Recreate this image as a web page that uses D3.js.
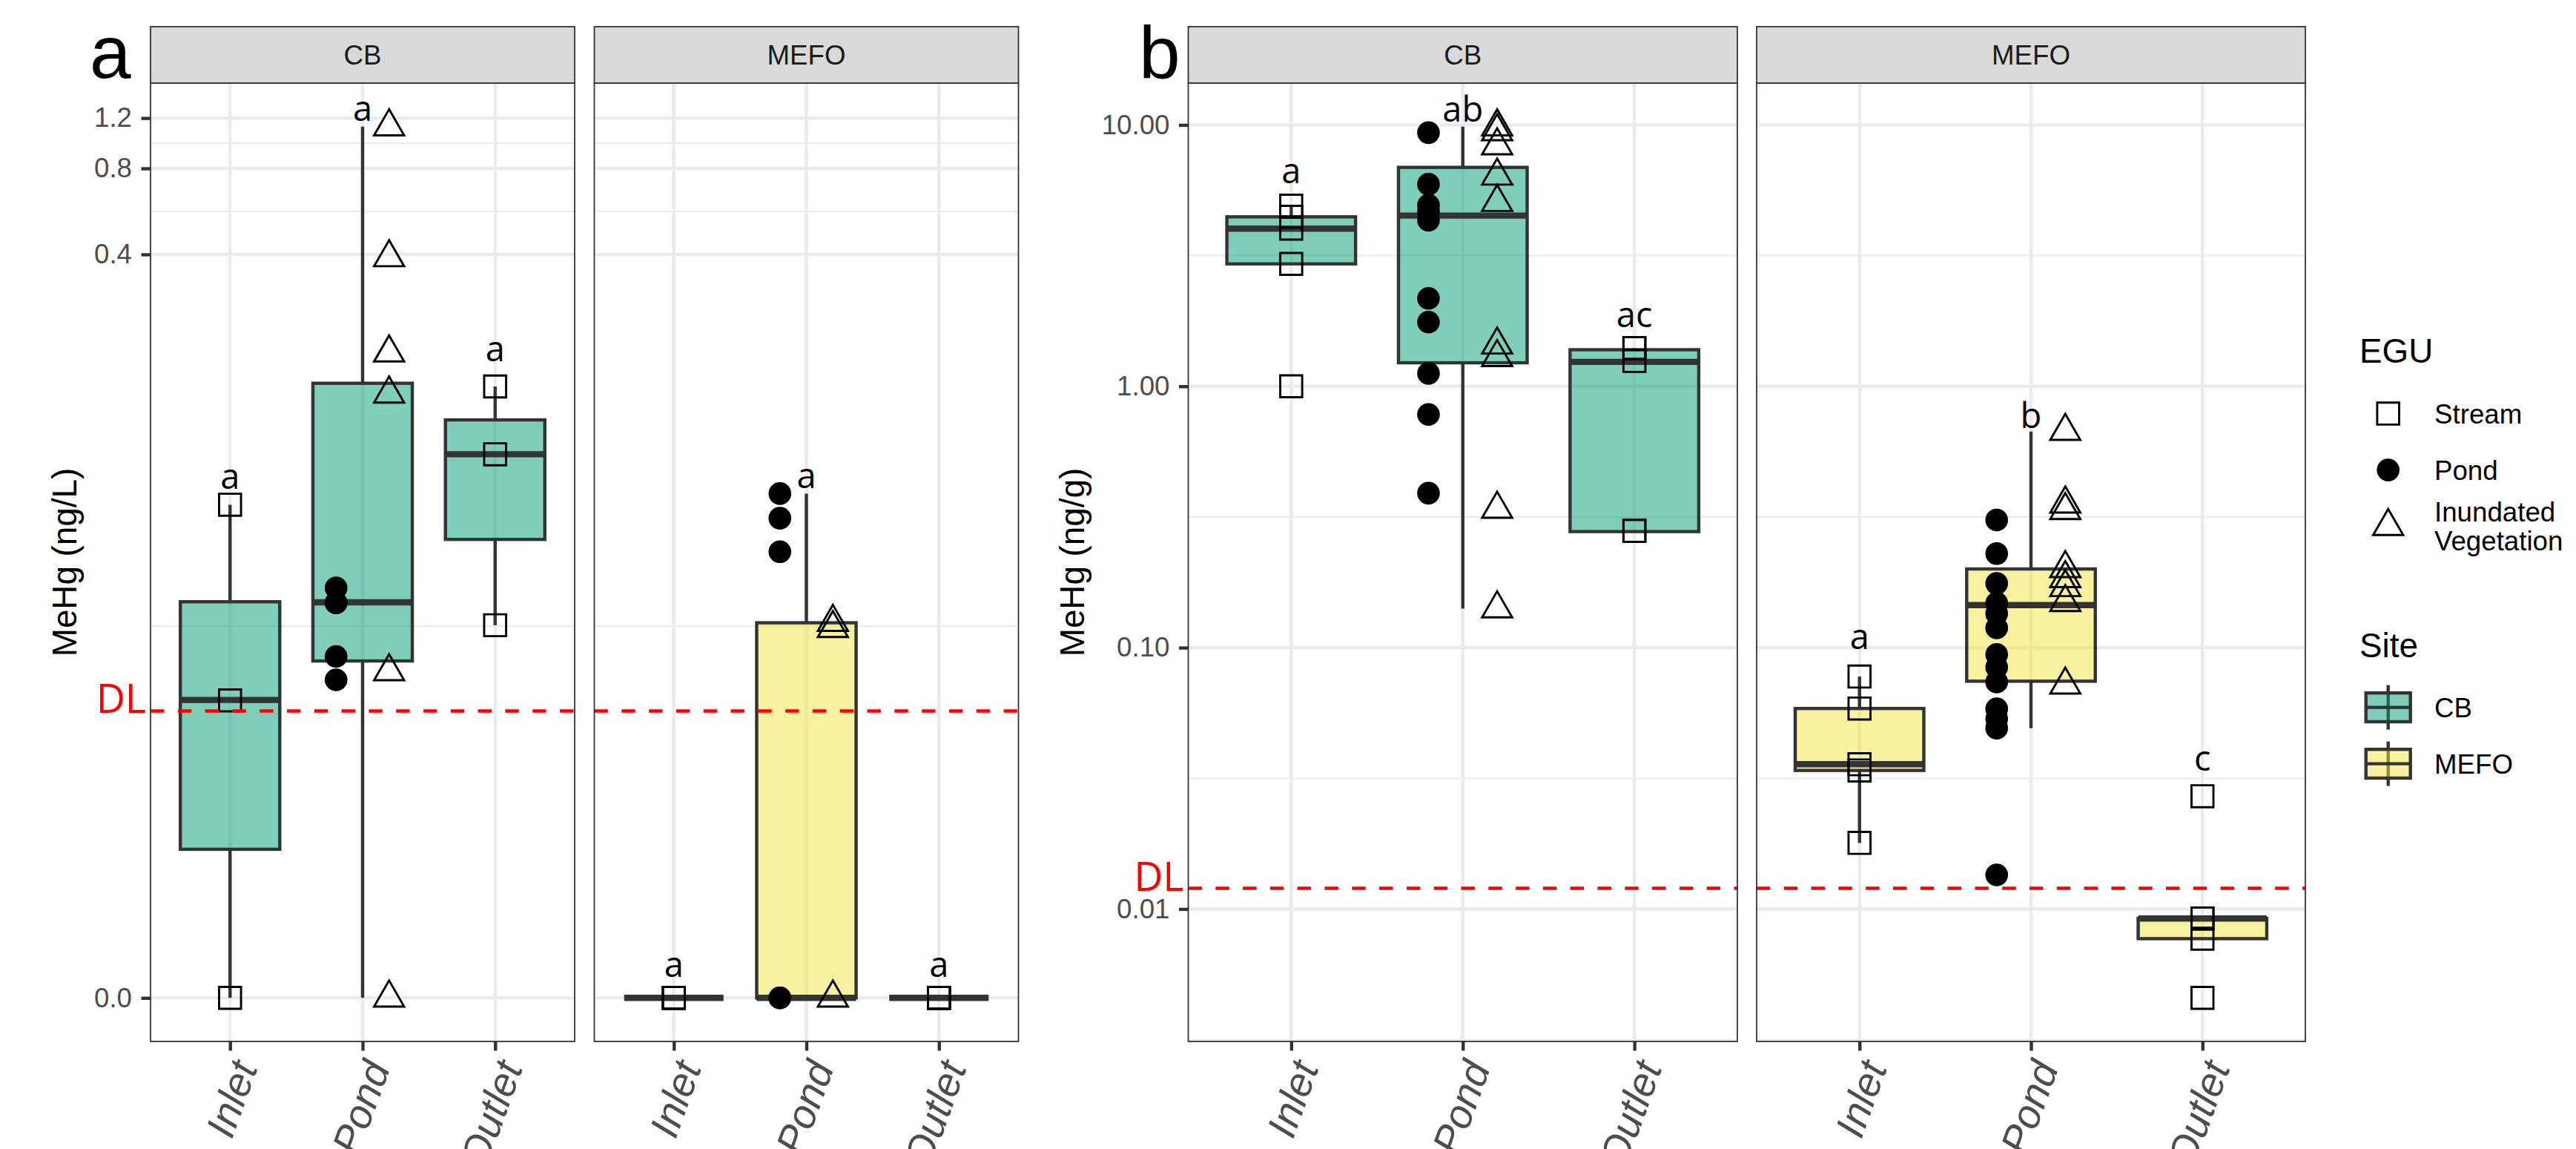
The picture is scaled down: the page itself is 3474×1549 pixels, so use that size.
<!DOCTYPE html>
<html>
<head>
<meta charset="utf-8">
<script src="https://cdn.jsdelivr.net/npm/d3@7"></script>
<style>
  body { margin: 0; background: #fff; }
  svg { display: block; }
</style>
</head>
<body>
<svg id="chart" width="3474" height="1549"></svg>
<script>
// ---- categories ----
const locations = ["Inlet", "Pond", "Outlet"];
const sites = ["CB", "MEFO"];
const eguNames = ["Stream", "Pond", "Inundated Vegetation"];
const eguLabels = ["Stream", "Pond", "Inundated\nVegetation"];
const siteColors = ["#009E73", "#F0E442"];

// ---- panel a: MeHg in water (ng/L) ----
const waterCBInletStream = [0, 0.0109, 0.0532];
const waterCBPondPond = [0.0129, 0.0156, 0.0241, 0.0241, 0.0272];
const waterCBPondVeg = [0, 0.0138, 0.130, 0.181, 0.390, 1.12];
const waterCBOutletStream = [0.0201, 0.0799, 0.138];
const waterMEFOInletStream = [0, 0, 0];
const waterMEFOPondPond = [0, 0, 0.0364, 0.0477, 0.0582];
const waterMEFOPondVeg = [0, 0.0196, 0.0206];
const waterMEFOOutletStream = [0, 0, 0];
// [lower whisker, q1, median, q3, upper whisker] for Inlet, Pond, Outlet
const waterBoxCB = [[0, 0.00301, 0.01094, 0.0243, 0.0532], [0, 0.01504, 0.0242, 0.1416, 1.12], [0.0201, 0.0402, 0.0799, 0.1054, 0.138]];
const waterBoxMEFO = [[0, 0, 0, 0, 0], [0, 0, 0, 0.0205, 0.0582], [0, 0, 0, 0, 0]];
const waterLettersCB = ["a", "a", "a"];
const waterLettersMEFO = ["a", "a", "a"];
const waterLetterAtCB = [0.0603, 1.174, 0.169];
const waterLetterAtMEFO = [0.00034, 0.061, 0.00034];
const waterDL = 0.01;
const waterTicks = [0, 0.4, 0.8, 1.2];

// ---- panel b: MeHg in sediment (ng/g) ----
const sedCBInletStream = [1.00, 2.94, 4.01, 4.45, 4.91];
const sedCBPondPond = [0.39, 0.78, 1.12, 1.76, 2.17, 4.32, 4.67, 4.93, 5.93, 9.34];
const sedCBPondVeg = [0.141, 0.339, 1.29, 1.44, 5.06, 6.38, 8.33, 9.44, 9.85];
const sedCBOutletStream = [0.28, 0.28, 1.25, 1.40, 1.40];
const sedMEFOInletStream = [0.0179, 0.0339, 0.0358, 0.0585, 0.0775];
const sedMEFOPondPond = [0.0135, 0.0492, 0.0534, 0.0583, 0.0739, 0.0841, 0.0942, 0.119, 0.135, 0.148, 0.176, 0.229, 0.308];
const sedMEFOPondVeg = [0.072, 0.149, 0.170, 0.184, 0.201, 0.335, 0.355, 0.673];
const sedMEFOOutletStream = [0.00457, 0.0077, 0.0092, 0.0092, 0.027];
const sedBoxCB = [[2.94, 2.94, 4.01, 4.45, 4.91], [0.141, 1.23, 4.50, 6.88, 9.85], [0.278, 0.278, 1.24, 1.38, 1.40]];
const sedBoxMEFO = [[0.0179, 0.0339, 0.0358, 0.0585, 0.0775], [0.0492, 0.0744, 0.1455, 0.200, 0.671], [0.0077, 0.0077, 0.0092, 0.0092, 0.0092]];
const sedLettersCB = ["a", "ab", "ac"];
const sedLettersMEFO = ["a", "b", "c"];
const sedLetterAtCB = [5.97, 10.27, 1.686];
const sedLetterAtMEFO = [0.0989, 0.694, 0.0339];
const sedDL = 0.012;
const sedTicks = [0.01, 0.1, 1, 10];

// ---- layout ----
const fontMain = '"Liberation Sans", Arial, Helvetica, sans-serif';
const fontNote = '"Open Sans", "Noto Sans", sans-serif';
const stripTop = 36, panelTop = 112, panelBottom = 1404;
const tickLen = 12.5, lineW = 4.4;
const eguSymbols = [d3.symbolSquare, d3.symbolCircle, d3.symbolTriangle];
const eguSizes = [876, 735, 711];
const eguDodge = [0, -0.2, 0.2];

const svg = d3.select("#chart");

function rows(site, loc, egu, vals) {
  return vals.map(v => ({ site, loc, egu, value: v }));
}

function expand(ext) {
  const d = ext[1] - ext[0];
  return [ext[0] - 0.05 * d, ext[1] + 0.05 * d];
}

function minorBreaks(major, domain) {
  const b = major.slice();
  const bd = b[1] - b[0];
  if (domain[0] < b[0]) b.unshift(b[0] - bd);
  if (domain[1] > b[b.length - 1]) b.push(b[b.length - 1] + bd);
  return d3.pairs(b, (p, q) => (p + q) / 2).filter(t => t > domain[0] && t < domain[1]);
}

// pseudo-log transform used on the water axis
const sigma = 0.001;
const pseudoLog = v => Math.asinh(v / (2 * sigma));
const pseudoLogInv = t => 2 * sigma * Math.sinh(t);

function makeFigure(opts) {
  const vals = opts.rows.map(r => r.value).concat(opts.boxes.flat(2));
  const domain = expand(d3.extent(vals.map(opts.tf)));
  const yT = d3.scaleLinear().domain(domain).range([panelBottom, panelTop]);
  const tickT = opts.ticks.map(opts.tf);
  return Object.assign({}, opts, {
    yT, tickT,
    y: v => yT(opts.tf(v)),
    minor: minorBreaks(tickT, domain)
  });
}

const water = makeFigure({
  rows: [].concat(
    rows("CB", "Inlet", "Stream", waterCBInletStream),
    rows("CB", "Pond", "Pond", waterCBPondPond),
    rows("CB", "Pond", "Inundated Vegetation", waterCBPondVeg),
    rows("CB", "Outlet", "Stream", waterCBOutletStream),
    rows("MEFO", "Inlet", "Stream", waterMEFOInletStream),
    rows("MEFO", "Pond", "Pond", waterMEFOPondPond),
    rows("MEFO", "Pond", "Inundated Vegetation", waterMEFOPondVeg),
    rows("MEFO", "Outlet", "Stream", waterMEFOOutletStream)),
  boxes: [waterBoxCB, waterBoxMEFO],
  letters: [waterLettersCB, waterLettersMEFO],
  letterAt: [waterLetterAtCB, waterLetterAtMEFO],
  dl: waterDL,
  ticks: waterTicks,
  tf: pseudoLog,
  fmt: t => d3.format(".1f")(pseudoLogInv(t)),
  panels: [[203, 775], [801.5, 1373.5]],
  tag: "a", tagX: 121, tagY: 104.5,
  title: "MeHg (ng/L)"
});

const sed = makeFigure({
  rows: [].concat(
    rows("CB", "Inlet", "Stream", sedCBInletStream),
    rows("CB", "Pond", "Pond", sedCBPondPond),
    rows("CB", "Pond", "Inundated Vegetation", sedCBPondVeg),
    rows("CB", "Outlet", "Stream", sedCBOutletStream),
    rows("MEFO", "Inlet", "Stream", sedMEFOInletStream),
    rows("MEFO", "Pond", "Pond", sedMEFOPondPond),
    rows("MEFO", "Pond", "Inundated Vegetation", sedMEFOPondVeg),
    rows("MEFO", "Outlet", "Stream", sedMEFOOutletStream)),
  boxes: [sedBoxCB, sedBoxMEFO],
  letters: [sedLettersCB, sedLettersMEFO],
  letterAt: [sedLetterAtCB, sedLetterAtMEFO],
  dl: sedDL,
  ticks: sedTicks,
  tf: Math.log10,
  fmt: t => d3.format(".2f")(Math.pow(10, t)),
  panels: [[1602.5, 2343], [2369, 3109]],
  tag: "b", tagX: 1536, tagY: 106,
  title: "MeHg (ng/g)"
});

function drawPanel(fig, si) {
  const site = sites[si];
  const [left, right] = fig.panels[si];
  const x = d3.scalePoint().domain(locations).range([left, right]).padding(0.6);
  const step = x.step();
  const bw = 0.75 * step;
  const g = svg.append("g");

  // grid
  g.selectAll("line.minor").data(fig.minor).join("line").attr("class", "minor")
    .attr("x1", left).attr("x2", right)
    .attr("y1", d => fig.yT(d)).attr("y2", d => fig.yT(d))
    .attr("stroke", "#EBEBEB").attr("stroke-width", 2.2);
  g.selectAll("line.majorY").data(fig.tickT).join("line").attr("class", "majorY")
    .attr("x1", left).attr("x2", right)
    .attr("y1", d => fig.yT(d)).attr("y2", d => fig.yT(d))
    .attr("stroke", "#EBEBEB").attr("stroke-width", lineW);
  g.selectAll("line.majorX").data(locations).join("line").attr("class", "majorX")
    .attr("x1", d => x(d)).attr("x2", d => x(d))
    .attr("y1", panelTop).attr("y2", panelBottom)
    .attr("stroke", "#EBEBEB").attr("stroke-width", lineW);

  // boxes
  const boxData = fig.boxes[si].map((b, i) => ({ loc: locations[i], b }));
  const bg = g.selectAll("g.box").data(boxData).join("g").attr("class", "box");
  bg.append("line")
    .attr("x1", d => x(d.loc)).attr("x2", d => x(d.loc))
    .attr("y1", d => fig.y(d.b[4])).attr("y2", d => fig.y(d.b[3]));
  bg.append("line")
    .attr("x1", d => x(d.loc)).attr("x2", d => x(d.loc))
    .attr("y1", d => fig.y(d.b[1])).attr("y2", d => fig.y(d.b[0]));
  bg.selectAll("line").attr("stroke", "#333333").attr("stroke-width", lineW);
  bg.append("rect")
    .attr("x", d => x(d.loc) - bw / 2).attr("width", bw)
    .attr("y", d => fig.y(d.b[3]))
    .attr("height", d => fig.y(d.b[1]) - fig.y(d.b[3]))
    .attr("fill", siteColors[si]).attr("fill-opacity", 0.5)
    .attr("stroke", "#333333").attr("stroke-width", lineW);
  bg.append("line")
    .attr("x1", d => x(d.loc) - bw / 2).attr("x2", d => x(d.loc) + bw / 2)
    .attr("y1", d => fig.y(d.b[2])).attr("y2", d => fig.y(d.b[2]))
    .attr("stroke", "#333333").attr("stroke-width", 8.4);

  // points
  const pts = fig.rows.filter(r => r.site === site);
  g.selectAll("path.pt").data(pts).join("path").attr("class", "pt")
    .attr("transform", d => {
      const e = eguNames.indexOf(d.egu);
      return `translate(${x(d.loc) + eguDodge[e] * step},${fig.y(d.value)})`;
    })
    .attr("d", d => {
      const e = eguNames.indexOf(d.egu);
      return d3.symbol().type(eguSymbols[e]).size(eguSizes[e])();
    })
    .attr("fill", d => d.egu === "Pond" ? "#000" : "none")
    .attr("stroke", d => d.egu === "Pond" ? "none" : "#000")
    .attr("stroke-width", 2.9);

  // detection limit
  g.append("line")
    .attr("x1", left).attr("x2", right)
    .attr("y1", fig.y(fig.dl)).attr("y2", fig.y(fig.dl))
    .attr("stroke", "#FF0000").attr("stroke-width", 4.6)
    .attr("stroke-dasharray", "18.4,18.4");
  if (si === 0) {
    svg.append("text")
      .attr("x", left - 6).attr("y", fig.y(fig.dl) + 3)
      .attr("text-anchor", "end")
      .attr("font-family", fontNote).attr("font-size", 54)
      .attr("fill", "#FF0000").text("DL");
  }

  // letters
  g.selectAll("text.letter").data(fig.letters[si]).join("text").attr("class", "letter")
    .attr("x", (d, i) => x(locations[i]))
    .attr("y", (d, i) => fig.y(fig.letterAt[si][i]))
    .attr("text-anchor", "middle")
    .attr("font-family", fontNote).attr("font-size", 47)
    .attr("fill", "#000").text(d => d);

  // border and strip
  g.append("rect")
    .attr("x", left).attr("y", panelTop).attr("width", right - left).attr("height", panelBottom - panelTop)
    .attr("fill", "none").attr("stroke", "#333333").attr("stroke-width", 1.8);
  g.append("rect")
    .attr("x", left).attr("y", stripTop).attr("width", right - left).attr("height", panelTop - stripTop)
    .attr("fill", "#D9D9D9").attr("stroke", "#333333").attr("stroke-width", 1.8);
  g.append("text")
    .attr("x", (left + right) / 2).attr("y", (stripTop + panelTop) / 2)
    .attr("dy", "0.36em").attr("text-anchor", "middle")
    .attr("font-family", fontMain).attr("font-size", 36.7)
    .attr("fill", "#1A1A1A").text(site);

  // x axis
  const gx = svg.append("g").attr("transform", `translate(0,${panelBottom})`)
    .call(d3.axisBottom(x).tickSize(tickLen).tickSizeOuter(0));
  gx.select(".domain").remove();
  gx.selectAll(".tick line").attr("stroke", "#333333").attr("stroke-width", lineW);
  gx.selectAll(".tick text")
    .attr("x", 0).attr("y", 0).attr("dy", "0.72em")
    .attr("transform", `translate(0,${tickLen + 9.2}) rotate(-70)`)
    .attr("text-anchor", "end")
    .attr("font-family", fontMain).attr("font-size", 55)
    .attr("font-style", "italic")
    .attr("fill", "#4D4D4D");

  // y axis on the left panel only
  if (si === 0) {
    const gy = svg.append("g").attr("transform", `translate(${left},0)`)
      .call(d3.axisLeft(fig.yT).tickValues(fig.tickT).tickFormat(fig.fmt)
        .tickSize(tickLen).tickPadding(12.5).tickSizeOuter(0));
    gy.select(".domain").remove();
    gy.selectAll(".tick line").attr("stroke", "#333333").attr("stroke-width", lineW);
    gy.selectAll(".tick text")
      .attr("font-family", fontMain).attr("font-size", 36.7)
      .attr("fill", "#4D4D4D");
    const labelW = d3.max(gy.selectAll(".tick text").nodes(), n => n.getComputedTextLength());
    const tx = left - tickLen - 12.5 - labelW - 24;
    svg.append("text")
      .attr("transform", `translate(${tx},${(panelTop + panelBottom) / 2}) rotate(-90)`)
      .attr("text-anchor", "middle")
      .attr("font-family", fontMain).attr("font-size", 45.8)
      .attr("fill", "#000").text(fig.title);
    svg.append("text")
      .attr("x", fig.tagX).attr("y", fig.tagY)
      .attr("font-family", fontMain).attr("font-size", 100)
      .attr("fill", "#000").text(fig.tag);
  }
}

[water, sed].forEach(fig => sites.forEach((s, i) => drawPanel(fig, i)));

// ---- legend ----
const lg = svg.append("g").attr("font-family", fontMain);
const keyX = 3220.7, labelX = 3283;
lg.append("text").attr("x", 3182).attr("y", 489).attr("font-size", 45.8).attr("fill", "#000").text("EGU");
eguNames.forEach((name, i) => {
  const cy = 557.6 + i * 76;
  lg.append("path")
    .attr("transform", `translate(${keyX},${cy})`)
    .attr("d", d3.symbol().type(eguSymbols[i]).size(eguSizes[i])())
    .attr("fill", name === "Pond" ? "#000" : "none")
    .attr("stroke", name === "Pond" ? "none" : "#000")
    .attr("stroke-width", 2.9);
  const lines = eguLabels[i].split("\n");
  const t = lg.append("text").attr("font-size", 36.7).attr("fill", "#000");
  lines.forEach((ln, j) => {
    t.append("tspan").attr("x", labelX)
      .attr("y", cy + 13.2 + (j - (lines.length - 1) / 2) * 39)
      .text(ln);
  });
});
lg.append("text").attr("x", 3182).attr("y", 885.7).attr("font-size", 45.8).attr("fill", "#000").text("Site");
sites.forEach((s, i) => {
  const cy = 953.6 + i * 76;
  lg.append("line").attr("x1", keyX).attr("x2", keyX).attr("y1", cy - 30).attr("y2", cy + 30)
    .attr("stroke", "#333333").attr("stroke-width", lineW);
  lg.append("rect").attr("x", keyX - 30).attr("width", 60).attr("y", cy - 19.4).attr("height", 38.8)
    .attr("fill", siteColors[i]).attr("fill-opacity", 0.5)
    .attr("stroke", "#333333").attr("stroke-width", lineW);
  lg.append("line").attr("x1", keyX - 30).attr("x2", keyX + 30).attr("y1", cy).attr("y2", cy)
    .attr("stroke", "#333333").attr("stroke-width", lineW);
  lg.append("text").attr("x", labelX).attr("y", cy + 13.2).attr("font-size", 36.7).attr("fill", "#000").text(s);
});
</script>
</body>
</html>
